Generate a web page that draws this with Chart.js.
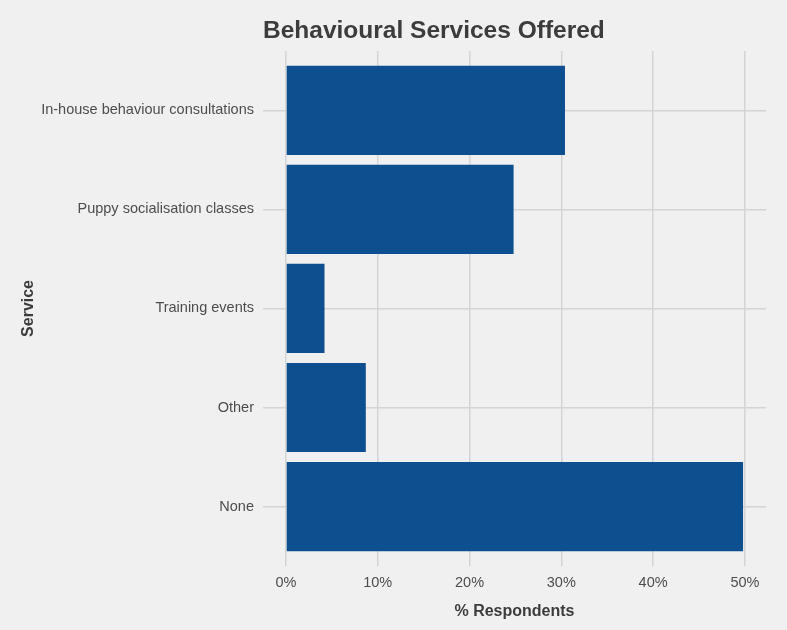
<!DOCTYPE html>
<html>
<head>
<meta charset="utf-8">
<script src="https://cdn.jsdelivr.net/npm/chart.js@4"></script>
<style>
  html, body { margin: 0; padding: 0; background: #f0f0f0; }
  canvas { display: block; }
</style>
</head>
<body>
<canvas id="chart" width="787" height="630"></canvas>
<script>
// values
const categories = ['In-house behaviour consultations', 'Puppy socialisation classes', 'Training events', 'Other', 'None'];
const percentRespondents = [30.4, 24.8, 4.2, 8.7, 49.8];
const xTicks = [0, 10, 20, 30, 40, 50];

const font = '"Liberation Sans", Arial, Helvetica, sans-serif';
const gridColor = '#d4d4d4';

const bgPlugin = {
    id: 'bg',
    beforeDraw(chart) {
        const ctx = chart.ctx;
        ctx.save();
        ctx.fillStyle = '#f0f0f0';
        ctx.fillRect(0, 0, chart.width, chart.height);
        ctx.restore();
    }
};

new Chart(document.getElementById('chart'), {
    type: 'bar',
    data: {
        datasets: [{
            data: categories.map((c, i) => ({ x: percentRespondents[i], y: i })),
            backgroundColor: '#0e4f8f',
            borderWidth: 0,
            barPercentage: 0.9,
            categoryPercentage: 1.0
        }]
    },
    options: {
        indexAxis: 'y',
        responsive: false,
        animation: false,
        layout: { padding: { left: 0, right: 21, top: 0, bottom: 0 } },
        plugins: {
            legend: { display: false },
            tooltip: { enabled: false },
            title: {
                display: true,
                text: 'Behavioural Services Offered',
                align: 'start',
                fullSize: false,
                color: '#3c3c3c',
                font: { family: font, size: 24.5, weight: 'bold' },
                padding: { top: 17, bottom: 4.5 }
            }
        },
        scales: {
            x: {
                type: 'linear',
                min: -2.5,
                max: 52.3,
                afterBuildTicks: s => { s.ticks = xTicks.map(v => ({ value: v })); },
                afterFit: s => { s.height = 64; },
                grid: { color: gridColor, lineWidth: 1.5, drawTicks: false },
                border: { display: false },
                ticks: {
                    color: '#4d4d4d',
                    padding: 8,
                    font: { family: font, size: 14.5 },
                    callback: v => v + '%'
                },
                title: {
                    display: true,
                    text: '% Respondents',
                    color: '#3c3c3c',
                    font: { family: font, size: 16, weight: 'bold' },
                    padding: { top: 0, bottom: 9 }
                }
            },
            y: {
                type: 'linear',
                reverse: true,
                offset: false,
                min: -0.6,
                max: categories.length - 0.4,
                afterBuildTicks: s => { s.ticks = categories.map((c, i) => ({ value: i })); },
                afterFit: s => { s.width = 263; },
                grid: { color: gridColor, lineWidth: 1.5, drawTicks: false, offset: false },
                border: { display: false },
                ticks: {
                    color: '#4d4d4d',
                    padding: 9,
                    font: { family: font, size: 14.5 },
                    callback: v => categories[v]
                },
                title: {
                    display: true,
                    text: 'Service',
                    color: '#3c3c3c',
                    font: { family: font, size: 16, weight: 'bold' },
                    padding: { top: 19, bottom: 0 }
                }
            }
        }
    },
    plugins: [bgPlugin]
});
</script>
</body>
</html>
